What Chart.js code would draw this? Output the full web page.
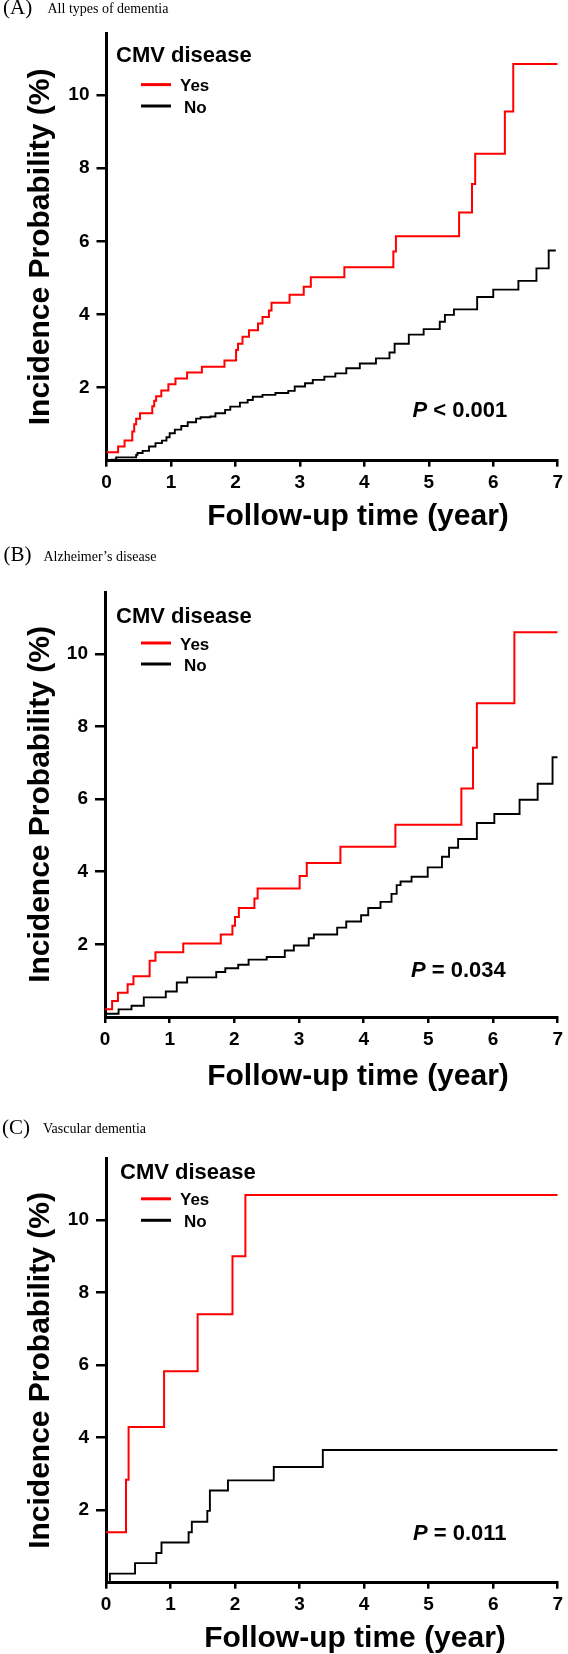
<!DOCTYPE html>
<html>
<head>
<meta charset="utf-8">
<script src="https://cdn.jsdelivr.net/npm/chart.js@4.4.1/dist/chart.umd.min.js"></script>
<style>
  body { margin: 0; background: #fff; width: 568px; height: 1654px; position: relative; overflow: hidden; }
  canvas { position: absolute; left: 0; }
  .cap { position: absolute; font-family: 'Liberation Serif', 'Times New Roman', serif; color: #000; white-space: nowrap; z-index: 2; }
  .lab { font-size: 21px; line-height: 21px; }
  .sub { font-size: 14px; line-height: 14px; }
</style>
</head>
<body>
<canvas id="chartA" width="568" height="545" style="top:0px"></canvas>
<canvas id="chartB" width="568" height="560" style="top:545px"></canvas>
<canvas id="chartC" width="568" height="549" style="top:1105px"></canvas>

<span class="cap lab" style="left:3px; top:-2.6px">(A)</span>
<span class="cap sub" style="left:47.5px; top:2px">All types of dementia</span>
<span class="cap lab" style="left:3.5px; top:544.4px">(B)</span>
<span class="cap sub" style="left:43.5px; top:549.7px">Alzheimer’s disease</span>
<span class="cap lab" style="left:2px; top:1117.4px">(C)</span>
<span class="cap sub" style="left:43px; top:1122.3px">Vascular dementia</span>

<script>
const seriesLabels = ['Yes', 'No'];
const xTicks = [0, 1, 2, 3, 4, 5, 6, 7];
const yTicks = [2, 4, 6, 8, 10];

// (A) all types of dementia
const aYesX = [0, 0.18, 0.28, 0.40, 0.43, 0.46, 0.52, 0.71, 0.74, 0.77, 0.85, 0.96, 1.07, 1.25, 1.48, 1.83, 2.01, 2.04, 2.11, 2.21, 2.35, 2.42, 2.52, 2.56, 2.84, 3.06, 3.17, 3.69, 4.45, 4.49, 5.47, 5.67, 5.72, 6.18, 6.31, 7];
const aYesY = [0.23, 0.39, 0.55, 0.80, 1.00, 1.15, 1.30, 1.49, 1.64, 1.76, 1.92, 2.09, 2.25, 2.41, 2.57, 2.74, 3.03, 3.20, 3.39, 3.57, 3.75, 3.93, 4.11, 4.32, 4.54, 4.76, 5.02, 5.29, 5.72, 6.14, 6.79, 7.57, 8.40, 9.55, 10.85, 10.85];
const aNoX = [0, 0.08, 0.15, 0.46, 0.48, 0.56, 0.66, 0.76, 0.86, 0.93, 0.98, 1.06, 1.16, 1.26, 1.39, 1.46, 1.61, 1.69, 1.84, 1.92, 2.07, 2.19, 2.27, 2.42, 2.62, 2.82, 2.92, 3.08, 3.20, 3.38, 3.55, 3.72, 3.93, 4.18, 4.39, 4.47, 4.69, 4.92, 5.17, 5.25, 5.39, 5.75, 6.00, 6.39, 6.67, 6.86, 6.97];
const aNoY = [0, 0.03, 0.09, 0.16, 0.21, 0.27, 0.39, 0.48, 0.55, 0.64, 0.75, 0.85, 0.95, 1.05, 1.15, 1.19, 1.21, 1.30, 1.39, 1.48, 1.59, 1.66, 1.75, 1.80, 1.85, 1.91, 2.03, 2.12, 2.21, 2.30, 2.39, 2.53, 2.66, 2.80, 2.96, 3.20, 3.45, 3.60, 3.80, 3.99, 4.14, 4.48, 4.68, 4.92, 5.26, 5.75, 5.75];

// (B) Alzheimer's disease
const bYesX = [0, 0.11, 0.20, 0.35, 0.44, 0.69, 0.78, 1.21, 1.79, 1.97, 2.01, 2.07, 2.31, 2.36, 3.01, 3.12, 3.64, 4.49, 5.51, 5.69, 5.75, 6.33, 7];
const bYesY = [0.21, 0.44, 0.67, 0.90, 1.12, 1.55, 1.78, 2.02, 2.27, 2.51, 2.75, 3.00, 3.26, 3.54, 3.88, 4.24, 4.69, 5.29, 6.29, 7.41, 8.64, 10.59, 10.59];
const bNoX = [0, 0.21, 0.41, 0.60, 0.94, 1.11, 1.27, 1.72, 1.86, 2.06, 2.22, 2.50, 2.78, 2.92, 3.15, 3.23, 3.59, 3.73, 3.96, 4.07, 4.26, 4.43, 4.51, 4.57, 4.74, 4.99, 5.21, 5.32, 5.46, 5.75, 6.02, 6.41, 6.69, 6.92, 7];
const bNoY = [0.09, 0.21, 0.31, 0.54, 0.70, 0.95, 1.09, 1.24, 1.34, 1.44, 1.58, 1.65, 1.83, 1.97, 2.17, 2.27, 2.46, 2.63, 2.80, 3.00, 3.17, 3.39, 3.63, 3.73, 3.86, 4.12, 4.41, 4.66, 4.90, 5.34, 5.59, 5.98, 6.42, 7.15, 7.15];

// (C) vascular dementia
const cYesX = [0, 0.31, 0.35, 0.90, 1.42, 1.96, 2.16, 7];
const cYesY = [1.39, 2.84, 4.29, 5.83, 7.40, 9.00, 10.69, 10.69];
const cNoX = [0, 0.06, 0.45, 0.78, 0.86, 1.28, 1.33, 1.57, 1.61, 1.89, 2.60, 3.36, 7];
const cNoY = [0, 0.25, 0.54, 0.82, 1.11, 1.39, 1.68, 1.98, 2.54, 2.82, 3.19, 3.66, 3.66];

const pValues = ['< 0.001', '= 0.034', '= 0.011'];

const SANS = "'Liberation Sans', Arial, sans-serif";
Chart.defaults.font.family = SANS;

// axis titles, legend and p value drawn on top of the plot
const overlay = {
  id: 'overlay',
  afterDraw(chart, args, o) {
    const { ctx, chartArea: a } = chart;
    ctx.save();
    ctx.fillStyle = '#000';
    ctx.textBaseline = 'alphabetic';

    ctx.font = 'bold 30px ' + SANS;
    ctx.textAlign = 'center';
    ctx.fillText('Follow-up time (year)', o.xTitleX, a.bottom + o.xTitleDy);
    ctx.save();
    ctx.translate(o.yTitleX, (a.top + a.bottom) / 2);
    ctx.rotate(-Math.PI / 2);
    ctx.fillText('Incidence Probability (%)', 0, 0);
    ctx.restore();

    ctx.textAlign = 'left';
    ctx.font = 'bold 22px ' + SANS;
    ctx.fillText('CMV disease', o.legX, a.top + o.legTitleDy);
    chart.data.datasets.forEach((ds, i) => {
      const ly = a.top + o.legItemDy[i];
      ctx.strokeStyle = ds.borderColor;
      ctx.lineWidth = 3;
      ctx.beginPath();
      ctx.moveTo(141, ly);
      ctx.lineTo(171, ly);
      ctx.stroke();
      ctx.font = 'bold 17px ' + SANS;
      ctx.fillText(ds.label, 180 + i * 4, ly + 6.5);
    });

    const py = a.bottom - o.pDy;
    ctx.font = 'italic bold 22px ' + SANS;
    ctx.fillText('P', o.pX, py);
    const w = ctx.measureText('P ').width;
    ctx.font = 'bold 22px ' + SANS;
    ctx.fillText(o.pText, o.pX + w, py);
    ctx.restore();
  }
};

function pts(xs, ys) {
  return xs.map((v, i) => ({ x: v, y: ys[i] }));
}

function panel(id, yesX, yesY, noX, noY, cfg) {
  const tickFont = { size: 19, weight: 'bold' };
  return new Chart(document.getElementById(id), {
    type: 'line',
    data: {
      datasets: [
        { label: seriesLabels[0], data: pts(yesX, yesY), borderColor: '#ff0000', borderWidth: 2, stepped: true, pointRadius: 0, fill: false },
        { label: seriesLabels[1], data: pts(noX, noY), borderColor: '#000000', borderWidth: 1.9, stepped: true, pointRadius: 0, fill: false }
      ]
    },
    options: {
      responsive: false,
      animation: false,
      events: [],
      layout: { padding: { top: cfg.top, right: cfg.right, left: 0, bottom: 0 } },
      plugins: { legend: { display: false }, tooltip: { enabled: false }, overlay: cfg },
      scales: {
        x: {
          type: 'linear', min: 0, max: 7,
          afterBuildTicks: s => { s.ticks = xTicks.map(v => ({ value: v })); },
          afterFit: s => { s.height = cfg.xHeight; },
          grid: { drawOnChartArea: false, tickLength: 6, color: '#000', lineWidth: 2.5 },
          border: { color: '#000', width: 3 },
          ticks: { color: '#000', font: tickFont, padding: 5, maxRotation: 0 }
        },
        y: {
          min: 0, max: 11.7,
          afterBuildTicks: s => { s.ticks = yTicks.map(v => ({ value: v })); },
          afterFit: s => { s.width = cfg.left; },
          grid: { drawOnChartArea: false, tickLength: 10, color: '#000', lineWidth: 2.5 },
          border: { color: '#000', width: 3 },
          ticks: { color: '#000', font: tickFont, padding: 7 }
        }
      }
    },
    plugins: [overlay]
  });
}

panel('chartA', aYesX, aYesY, aNoX, aNoY, {
  top: 33, right: 5.3, left: 106.5, xHeight: 84.3,
  xTitleX: 358, xTitleDy: 64.3, yTitleX: 49,
  legX: 116, legTitleDy: 28.5, legItemDy: [51.6, 73],
  pX: 412.5, pDy: 44.1, pText: pValues[0]
});
panel('chartB', bYesX, bYesY, bNoX, bNoY, {
  top: 47, right: 7, left: 105, xHeight: 88,
  xTitleX: 358, xTitleDy: 68, yTitleX: 49,
  legX: 116, legTitleDy: 31, legItemDy: [51, 72],
  pX: 411, pDy: 40.5, pText: pValues[1]
});
panel('chartC', cYesX, cYesY, cNoX, cNoY, {
  top: 53.3, right: 9.7, left: 106, xHeight: 71.3,
  xTitleX: 355, xTitleDy: 64, yTitleX: 49,
  legX: 120, legTitleDy: 21, legItemDy: [40.5, 62],
  pX: 413, pDy: 42.8, pText: pValues[2]
});
</script>
</body>
</html>
